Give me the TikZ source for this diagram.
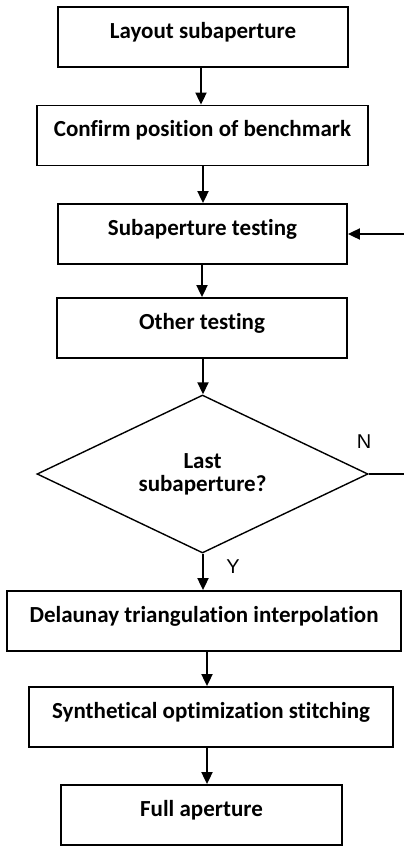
\documentclass[tikz,border=0pt]{standalone}
\usepackage{fontspec}
\setmainfont{Carlito}[RawFeature=-liga]
\newfontfamily\labelfont{Liberation Sans}
\usetikzlibrary{arrows.meta,shapes.geometric}
\begin{document}
\begin{tikzpicture}[x=1pt, y=-1pt,
  stepbox/.style={draw, line width=1.8pt, minimum width=#1, inner xsep=0pt,
                  inner ysep=0pt, text height=31pt, text depth=29pt,
                  font=\fontsize{23}{26}\selectfont\bfseries},
  decision/.style={draw, diamond, aspect=2.1, line width=1.4pt, minimum width=331pt,
                   minimum height=158pt, inner sep=0pt, align=center,
                   font=\fontsize{23}{26}\selectfont\bfseries},
  branch/.style={font=\labelfont\fontsize{20}{23}\selectfont},
  arr/.style={-{Triangle[length=12pt, width=11pt]}, line width=1.8pt}
]
  \useasboundingbox (0,0) rectangle (404,846);
  % Schritte oben
  \node[stepbox=290pt] (layout)  at (203, 37)    {Layout subaperture};
  \node[stepbox=331pt] (bench)   at (202.5,135.5) {Confirm position of benchmark};
  \node[stepbox=289pt] (subtest) at (202.5,234)  {Subaperture testing};
  \node[stepbox=290pt] (other)   at (202, 328)   {Other testing};
  % Abfrage
  \node[decision]      (last)    at (202.5,474)  {Last\\[-3pt]subaperture?};
  \node[branch]        (no)      at (364, 442)   {N};
  \node[branch]        (yes)     at (233, 567)   {Y};
  % Auswertung
  \node[stepbox=394pt] (delau)   at (204, 621)   {Delaunay triangulation interpolation};
  \node[stepbox=364pt] (synth)   at (211, 717)   {Synthetical optimization stitching};
  \node[stepbox=281pt] (full)    at (201.5,815)  {Full aperture};
  \coordinate (back) at (414, 474);
  % Pfeile
  \draw[arr] ([xshift=-2pt]layout.south) -- ([xshift=-2pt]layout.south |- bench.north);
  \draw[arr] ([xshift=.5pt]bench.south) -- ([xshift=.5pt]bench.south |- subtest.north);
  \draw[arr] ([xshift=-.5pt]subtest.south) -- ([xshift=-.5pt]subtest.south |- other.north);
  \draw[arr] ([xshift=1pt]other.south) -- ([xshift=1pt]other.south |- last.north);
  \draw[arr] ([xshift=.5pt]last.south) -- ([xshift=.5pt]last.south |- delau.north);
  \draw[arr] ([xshift=3pt]delau.south) -- ([xshift=3pt]delau.south |- synth.north);
  \draw[arr] ([xshift=-4pt]synth.south) -- ([xshift=-4pt]synth.south |- full.north);
  \draw[line width=1.4pt] (last.east) -- (back);
  \draw[arr] (back) |- (subtest.east);
\end{tikzpicture}
\end{document}
